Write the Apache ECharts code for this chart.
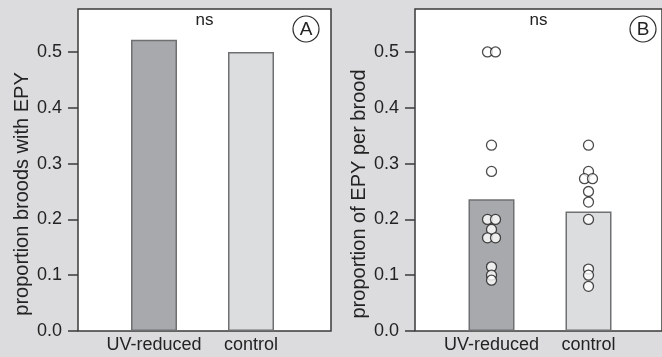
<!DOCTYPE html>
<html>
<head>
<meta charset="utf-8">
<script src="https://cdn.jsdelivr.net/npm/echarts@6/dist/echarts.min.js"></script>
<style>
html,body{margin:0;padding:0;background:#dcdcde;}
#chart{width:662px;height:357px;}
</style>
</head>
<body>
<div id="chart"></div>
<script>
// ---- data ----
const categories = ['UV-reduced', 'control'];
const broodsWithEPY = [0.522, 0.5];          // panel A bars
const meanEPYPerBrood = [0.236, 0.214];      // panel B bars
const uvReducedPoints = [0.5, 0.5, 0.333, 0.286, 0.2, 0.2, 0.182, 0.167, 0.167, 0.115, 0.1, 0.091];
const controlPoints = [0.333, 0.286, 0.273, 0.273, 0.25, 0.231, 0.2, 0.111, 0.1, 0.08];
const yTicks = [0, 0.1, 0.2, 0.3, 0.4, 0.5];
const yMax = 0.577;
const yNameA = 'proportion broods with EPY';
const yNameB = 'proportion of EPY per brood';
const sigLabel = 'ns';
const panelLetters = ['A', 'B'];

// ---- styles ----
const FONT = 'Liberation Sans, Arial, Helvetica, sans-serif';
const TXT = '#232323';
const LINE = '#3a3a3a';
const barColors = ['#a8a9ac', '#dcdddf'];
const barBorder = '#6f7072';

const chart = echarts.init(document.getElementById('chart'), null, {renderer: 'canvas'});

const panels = [
  {left: 78, dataLeft: 105.5},
  {left: 415, dataLeft: 443}
];
const gridTop = 9, gridH = 322, frameW = 253, dataW = 194;

const grids = [], xAxes = [], yAxes = [], series = [];
panels.forEach((p, i) => {
  grids.push({left: p.left, top: gridTop, width: frameW, height: gridH, show: true,
    backgroundColor: '#ffffff', borderColor: LINE, borderWidth: 1.5});
  grids.push({left: p.dataLeft, top: gridTop, width: dataW, height: gridH, show: false});
  const fg = i * 2, dg = i * 2 + 1;
  xAxes.push({gridIndex: fg, type: 'value', show: false, min: 0, max: 1});
  xAxes.push({gridIndex: dg, type: 'category', data: categories, boundaryGap: true,
    axisLine: {show: false}, axisTick: {show: false},
    axisLabel: {margin: 5, fontSize: 18, color: TXT, fontFamily: FONT, interval: 0}});
  yAxes.push({gridIndex: fg, type: 'value', min: 0, max: yMax,
    name: i === 0 ? yNameA : yNameB, nameLocation: 'middle', nameGap: 46,
    nameTextStyle: {fontSize: 20, color: TXT, fontFamily: FONT, padding: [0, 48, 0, 0]},
    axisLine: {show: false},
    axisTick: {show: true, length: 10, customValues: yTicks, lineStyle: {color: LINE, width: 1.5}},
    axisLabel: {customValues: yTicks, formatter: v => v.toFixed(1), margin: 16,
      fontSize: 18, color: TXT, fontFamily: FONT},
    splitLine: {show: false}});
  yAxes.push({gridIndex: dg, type: 'value', min: 0, max: yMax, show: false, splitLine: {show: false}});
});

function barData(vals) {
  return vals.map((v, k) => ({value: v, itemStyle: {color: barColors[k], borderColor: barBorder, borderWidth: 1.5}}));
}
series.push({type: 'bar', xAxisIndex: 1, yAxisIndex: 1, data: barData(broodsWithEPY), barWidth: 46, silent: true});
series.push({type: 'bar', xAxisIndex: 3, yAxisIndex: 3, data: barData(meanEPYPerBrood), barWidth: 46, silent: true});

function dodge(vals, catIdx) {
  const counts = {}, seen = {};
  vals.forEach(v => { counts[v] = (counts[v] || 0) + 1; });
  return vals.map(v => {
    const n = counts[v]; const k = seen[v] || 0; seen[v] = k + 1;
    return {value: [catIdx, v], symbolOffset: [(k - (n - 1) / 2) * 8, 0]};
  });
}
series.push({type: 'scatter', xAxisIndex: 3, yAxisIndex: 3, z: 5,
  data: dodge(uvReducedPoints, 0).concat(dodge(controlPoints, 1)),
  symbol: 'circle', symbolSize: 10,
  itemStyle: {color: '#ffffff', borderColor: '#1e1e1e', borderWidth: 1.3}, silent: true});

const graphics = [];
panels.forEach((p, i) => {
  graphics.push({type: 'text', left: p.left + frameW / 2 - 9 - i * 3, top: 12,
    style: {text: sigLabel, font: '17px ' + FONT, fill: TXT}});
});
[{cx: 306, cy: 29}, {cx: 643, cy: 29}].forEach((c, i) => {
  graphics.push({type: 'circle', shape: {cx: c.cx, cy: c.cy, r: 13},
    style: {fill: '#ffffff', stroke: '#2a2a2a', lineWidth: 1.2}, z: 10});
  graphics.push({type: 'text', x: c.cx, y: c.cy + 1, z: 11,
    style: {text: panelLetters[i], font: '19px ' + FONT, fill: TXT, align: 'center', verticalAlign: 'middle'}});
});

chart.setOption({
  backgroundColor: '#dcdcde',
  animation: false,
  grid: grids, xAxis: xAxes, yAxis: yAxes, series: series, graphic: graphics
});
</script>
</body>
</html>
